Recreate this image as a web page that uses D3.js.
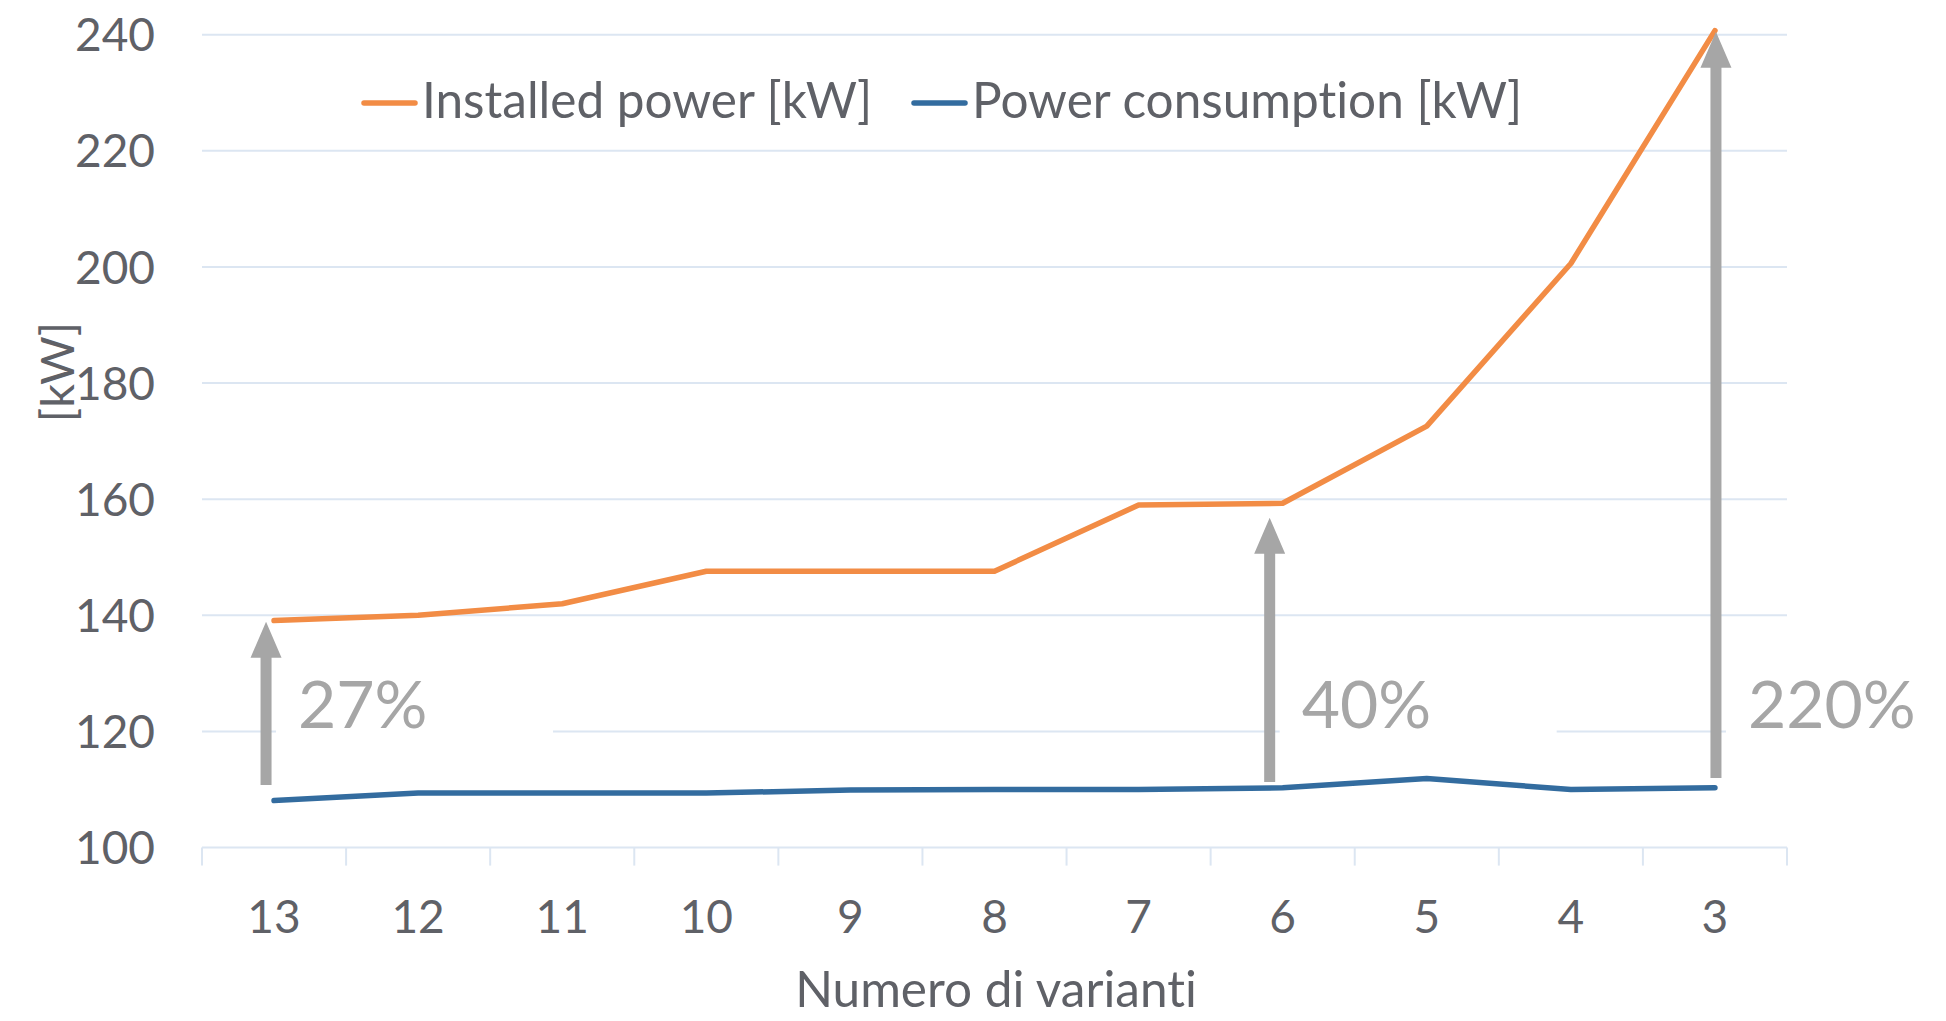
<!DOCTYPE html>
<html>
<head>
<meta charset="utf-8">
<script src="https://cdn.jsdelivr.net/npm/d3@7"></script>
<style>
  body { margin: 0; background: #fff; }
  text { font-family: Lato, "Open Sans", sans-serif; font-variant-ligatures: none; }
</style>
</head>
<body>
<div id="chart"></div>
<script>
// categories (number of variants) and the two series
let categories = ["13", "12", "11", "10", "9", "8", "7", "6", "5", "4", "3"];
let installedPower = [139.1, 140.0, 142.0, 147.6, 147.6, 147.6, 159.0, 159.3, 172.6, 200.6, 240.7];
let powerConsumption = [108.1, 109.4, 109.4, 109.4, 109.9, 110.0, 110.0, 110.3, 111.9, 110.0, 110.3];
let yTicks = [100, 120, 140, 160, 180, 200, 220, 240];

// gray arrows: category, start value, end value, label
let arrowCats = ["13", "6", "3"];
let arrowFrom = [110.8, 111.3, 112.0];
let arrowTo = [138.9, 156.8, 240.5];
let arrowLabels = ["27%", "40%", "220%"];

let svgWidth = 1946;
let svgHeight = 1021;
let margin = { top: 34.7, right: 159, bottom: 173.4, left: 202 };
let chartWidth = svgWidth - margin.left - margin.right;
let chartHeight = svgHeight - margin.top - margin.bottom;

let textColor = "#5f6167";
let gridColor = "#dce6f2";
let orange = "#f28c45";
let blue = "#336c9f";
let gray = "#a6a6a6";

let svg = d3.select("#chart")
  .append("svg")
  .attr("width", svgWidth)
  .attr("height", svgHeight);

let chartGroup = svg.append("g")
  .attr("transform", `translate(${margin.left}, ${margin.top})`);

let xScale = d3.scaleBand().domain(categories).range([0, chartWidth]).padding(0);
let yScale = d3.scaleLinear().domain([100, 240]).range([chartHeight, 0]);

/********************************************/
// gridlines
chartGroup.append("g")
  .selectAll("line")
  .data(yTicks.filter(d => d > 100))
  .enter()
  .append("line")
  .attr("x1", 0)
  .attr("x2", chartWidth)
  .attr("y1", d => yScale(d))
  .attr("y2", d => yScale(d))
  .attr("stroke", gridColor)
  .attr("stroke-width", 2);

// y axis labels (no axis line)
let yAxis = d3.axisLeft(yScale).tickValues(yTicks).tickSize(0).tickPadding(47);
let yAxisG = chartGroup.append("g").call(yAxis);
yAxisG.select(".domain").remove();
yAxisG.selectAll("text")
  .attr("fill", textColor)
  .style("font-size", "46px")
  .attr("dy", "0.35em");

// x axis with ticks between categories
let xAxisG = chartGroup.append("g")
  .attr("transform", `translate(0, ${chartHeight})`);
xAxisG.append("line")
  .attr("x1", 0).attr("x2", chartWidth)
  .attr("stroke", gridColor).attr("stroke-width", 2);
let boundaries = categories.map(c => xScale(c)).concat([chartWidth]);
xAxisG.selectAll(".tick-mark")
  .data(boundaries)
  .enter()
  .append("line")
  .attr("class", "tick-mark")
  .attr("x1", d => d).attr("x2", d => d)
  .attr("y1", 0).attr("y2", 18)
  .attr("stroke", gridColor).attr("stroke-width", 2);
xAxisG.selectAll(".xlab")
  .data(categories)
  .enter()
  .append("text")
  .attr("class", "xlab")
  .attr("x", d => xScale(d) + xScale.bandwidth() / 2)
  .attr("y", 85)
  .attr("text-anchor", "middle")
  .attr("fill", textColor)
  .style("font-size", "46px")
  .text(d => d);

// axis titles
svg.append("text")
  .attr("x", 996)
  .attr("y", 1007)
  .attr("text-anchor", "middle")
  .attr("fill", textColor)
  .style("font-size", "49.5px")
  .text("Numero di varianti");

svg.append("text")
  .attr("transform", "translate(74, 372) rotate(-90)")
  .attr("text-anchor", "middle")
  .attr("fill", textColor)
  .style("font-size", "47px")
  .text("[kW]");

/********************************************/
// series lines
let line = d3.line()
  .x((d, i) => xScale(categories[i]) + xScale.bandwidth() / 2)
  .y(d => yScale(d));

chartGroup.append("path")
  .datum(powerConsumption)
  .attr("d", line)
  .attr("fill", "none")
  .attr("stroke", blue)
  .attr("stroke-width", 5.5)
  .attr("stroke-linecap", "round")
  .attr("stroke-linejoin", "round");

chartGroup.append("path")
  .datum(installedPower)
  .attr("d", line)
  .attr("fill", "none")
  .attr("stroke", orange)
  .attr("stroke-width", 5.5)
  .attr("stroke-linecap", "round")
  .attr("stroke-linejoin", "round");

/********************************************/
// annotations: white text boxes, arrows, percentages
let arrowShift = { "13": -8, "6": -13, "3": 1 };
let annGroup = chartGroup.append("g");

arrowCats.forEach(function (cat, i) {
  let ax = xScale(cat) + xScale.bandwidth() / 2 + arrowShift[cat];
  let yBottom = yScale(arrowFrom[i]);
  let yTip = yScale(arrowTo[i]);
  let headLen = 36;
  let shaftHalf = 5.5;
  let headHalf = 15.5;

  // white box behind label (hides gridline like the original text box)
  annGroup.append("rect")
    .attr("x", ax + 10)
    .attr("y", yScale(129))
    .attr("width", 277)
    .attr("height", yScale(113) - yScale(129))
    .attr("fill", "#fff");

  annGroup.append("path")
    .attr("d", `M${ax - shaftHalf},${yBottom} L${ax - shaftHalf},${yTip + headLen} L${ax - headHalf},${yTip + headLen} L${ax},${yTip} L${ax + headHalf},${yTip + headLen} L${ax + shaftHalf},${yTip + headLen} L${ax + shaftHalf},${yBottom} Z`)
    .attr("fill", gray);

  annGroup.append("text")
    .attr("x", ax + 32)
    .attr("y", yScale(120) - 3)
    .attr("fill", gray)
    .style("font-size", "66px")
    .text(arrowLabels[i]);
});

/********************************************/
// legend
let legend = svg.append("g");
let legendItems = [
  { name: "Installed power [kW]", color: orange, x: 362 },
  { name: "Power consumption [kW]", color: blue, x: 912 }
];
legendItems.forEach(function (item) {
  legend.append("line")
    .attr("x1", item.x + 2).attr("x2", item.x + 53)
    .attr("y1", 103).attr("y2", 103)
    .attr("stroke", item.color)
    .attr("stroke-width", 5.5)
    .attr("stroke-linecap", "round");
  legend.append("text")
    .attr("x", item.x + 60)
    .attr("y", 118)
    .attr("fill", textColor)
    .style("font-size", "49.5px")
    .text(item.name);
});
</script>
</body>
</html>
